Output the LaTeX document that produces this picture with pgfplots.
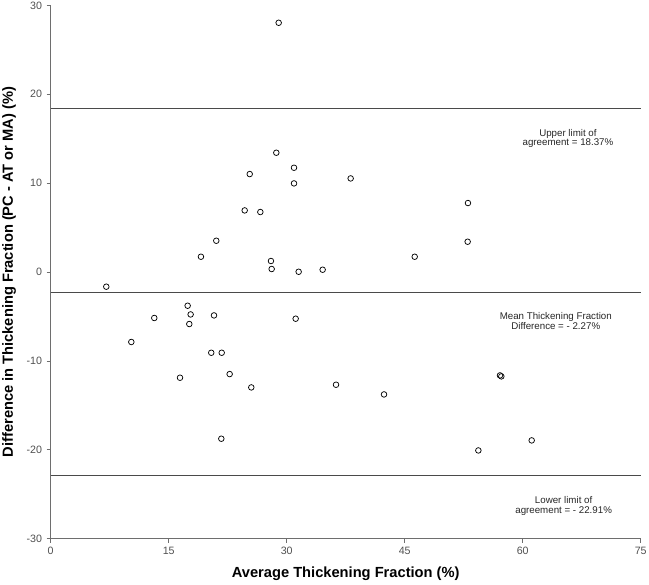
\documentclass[border=0pt]{standalone}
\usepackage{fontspec}
\setmainfont{Liberation Sans}
\usepackage{pgfplots}
\pgfplotsset{compat=1.18}
\usetikzlibrary{calc}
\definecolor{axisgray}{HTML}{6E6E6E}
\definecolor{tickgray}{HTML}{505050}
\definecolor{refline}{HTML}{4A4A4A}

\begin{document}
\begin{tikzpicture}
\begin{axis}[
  scale only axis, width=442.5pt, height=400pt,
  xmin=0, xmax=75, ymin=-30, ymax=30,
  xtick={0,15,30,45,60,75}, ytick={-30,-20,-10,0,10,20,30},
  axis lines=left, axis line style={-, axisgray, line width=0.6pt},
  tick align=outside, major tick length=3pt,
  tick style={axisgray, line width=0.6pt},
  minor tick num=0,
  ticklabel style={font=\fontsize{8pt}{9pt}\selectfont, text=tickgray},
  /pgf/number format/assume math mode=true,
  xlabel={\textbf{Average Thickening Fraction (\%)}},
  ylabel={\textbf{Difference in Thickening Fraction (PC - AT or MA) (\%)}},
  label style={font=\fontsize{11pt}{12pt}\selectfont},
  xlabel style={at={(axis description cs:0.5,0)}, anchor=base, yshift=-29.2pt},
  ylabel style={at={(axis description cs:0,0.5)}, anchor=base, yshift=28.3pt},
  clip=false,
]
% reference lines: upper limit, mean difference, lower limit
\addplot[refline, line width=0.9pt] coordinates {(0,18.37) (75,18.37)};
\addplot[refline, line width=0.9pt] coordinates {(0,-2.27) (75,-2.27)};
\addplot[refline, line width=0.9pt] coordinates {(0,-22.91) (75,-22.91)};

\addplot[only marks, mark=o, mark size=2.1pt, mark options={black, line width=0.55pt}]
coordinates {
(28.98,28.04) (28.68,13.42) (25.30,11.02) (30.93,11.73) (30.93,9.97)
(24.66,6.93) (26.65,6.75) (21.05,3.52) (19.10,1.72) (28.00,1.24)
(28.09,0.34) (31.52,0.03) (34.57,0.26) (7.07,-1.65)
(38.13,10.53) (53.04,7.76) (53.00,3.41) (46.27,1.72)
(17.41,-3.79) (17.79,-4.77) (17.62,-5.85) (13.17,-5.17) (20.76,-4.88)
(31.14,-5.25) (10.25,-7.87) (20.41,-9.08) (21.74,-9.08) (16.44,-11.89)
(22.75,-11.48) (25.50,-12.98) (21.69,-18.75)
(36.27,-12.68) (42.37,-13.77) (57.11,-11.63) (57.28,-11.74)
(54.36,-20.07) (61.14,-18.94)
};

\node[align=center, font=\fontsize{7.3pt}{7.2pt}\selectfont, text=black!85]
  at (axis cs:65.75,15.0) {Upper limit of\\agreement = 18.37\%};
\node[align=center, font=\fontsize{7.3pt}{7.2pt}\selectfont, text=black!85]
  at (axis cs:64.2,-5.48) {Mean Thickening Fraction\\Difference = - 2.27\%};
\node[align=center, font=\fontsize{7.3pt}{7.2pt}\selectfont, text=black!85]
  at (axis cs:65.2,-26.3) {Lower limit of\\agreement = - 22.91\%};

\coordinate (SW) at (rel axis cs:0,0);
\coordinate (NE) at (rel axis cs:1,1);
\end{axis}
\pgfresetboundingbox
\path[use as bounding box] ($(SW)+(-38pt,-34pt)$) rectangle ($(NE)+(6.2pt,4pt)$);
\end{tikzpicture}
\end{document}
